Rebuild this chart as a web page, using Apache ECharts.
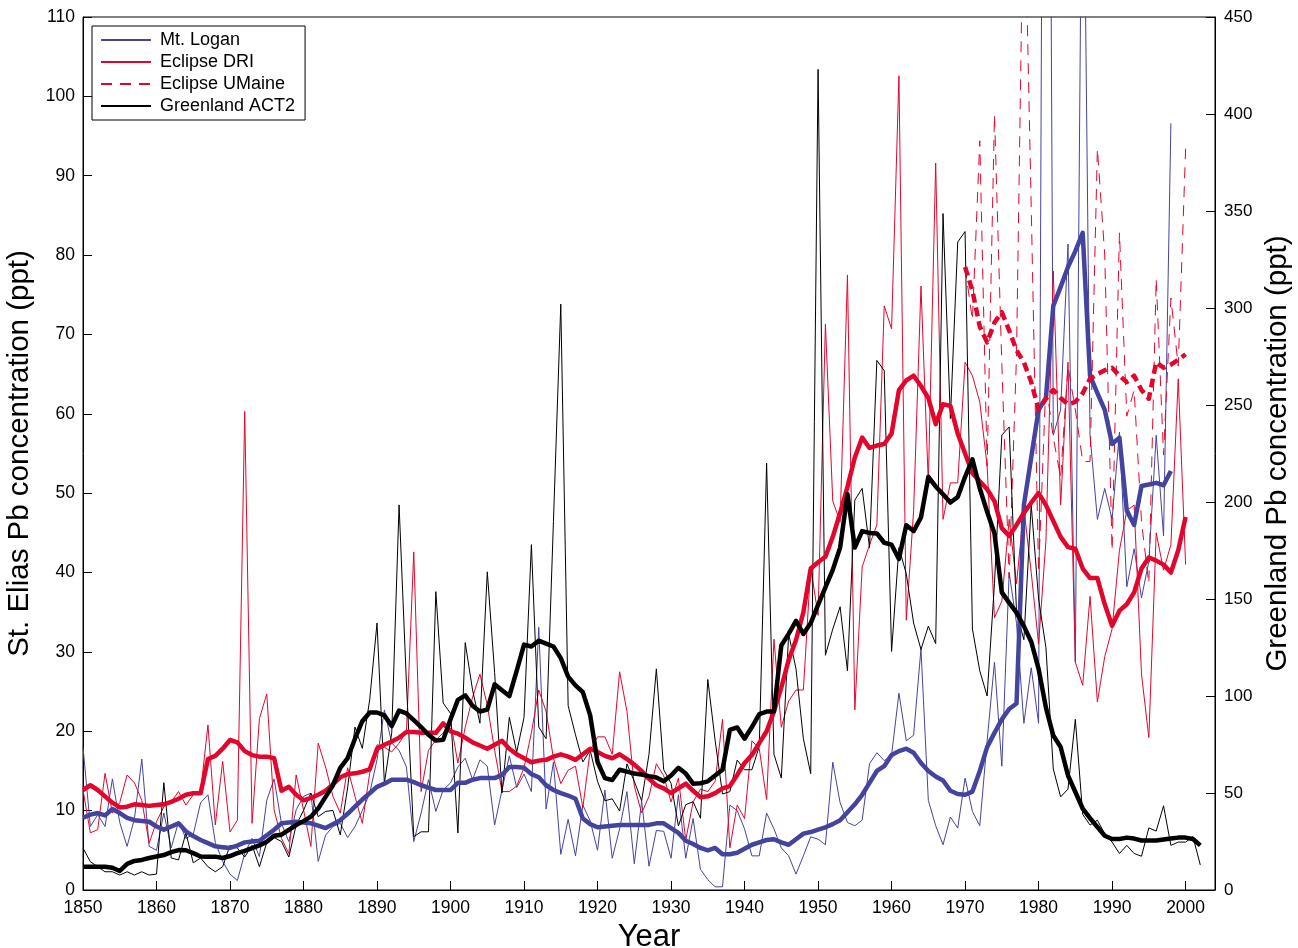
<!DOCTYPE html>
<html><head><meta charset="utf-8">
<script src="https://cdn.jsdelivr.net/npm/echarts@6/dist/echarts.min.js"></script>
<style>html,body{margin:0;padding:0;background:#fff}#c{width:1298px;height:948px}</style>
</head><body><div id="c"></div>
<script>
// ---------- data ----------
const loganStart = 1850;
const loganAnnual = [
 18, 8, 9.5, 8, 14, 8.5, 5.5, 9, 16.5, 5.5,
 5, 9.7, 5.3, 8.6, 6.5, 7, 11, 12, 6, 3.6,
 2, 1.2, 4.6, 6.5, 4.2, 11.3, 14, 8.4, 6.1, 10.1,
 11.8, 12.2, 3.6, 6.9, 8, 8.4, 6.6, 8, 10, 12.2,
 16.4, 22.7, 18.5, 17.6, 15.5, 6.1, 9.7, 13.9, 9.9, 12.6,
 13.5, 15.5, 16.6, 13.9, 16.4, 15.6, 8.2, 12.6, 16.9, 12.9,
 14.6, 12.4, 33.1, 10.2, 16.1, 4.5, 8.9, 4.3, 10.7, 8.7,
 5, 12.6, 4, 7.7, 12.4, 3.3, 11.2, 3, 7.5, 7.4,
 4, 12, 4, 9, 2.6, 1.3, 0.4, 0.4, 10.7, 10,
 7.7, 4.3, 4.3, 9.7, 7.7, 5.3, 4.3, 2, 4.3, 6.7,
 6.4, 5.7, 16.1, 11, 8.5, 8.1, 8.8, 15.9, 17.3, 16.3,
 17, 24.8, 18.8, 19.5, 30.4, 11.3, 8.1, 5.7, 9.2, 7.8,
 14.1, 9.9, 8.1, 18.8, 28.7, 15.6, 40, 33.6, 21, 28,
 21, 245, 57.3, 60.5, 81.4, 28.7, 145, 57.3, 46.7, 50.6,
 46.7, 57.7, 38.2, 43, 36.8, 41.4, 57.3, 44.6, 96.6
];
const loganSmooth = [
 9.1, 9.5, 9.7, 9.4, 10.2, 9.7, 9.1, 8.8, 8.7, 8.6,
 8, 7.6, 8, 8.4, 7.4, 6.8, 6.3, 5.9, 5.5, 5.4,
 5.3, 5.6, 6, 6.1, 6.2, 6.9, 7.6, 8.4, 8.5, 8.6,
 8.5, 8.4, 8.1, 7.8, 8.3, 8.8, 9.6, 10.5, 11.4, 12.2,
 13, 13.4, 13.9, 13.9, 13.9, 13.6, 13.2, 12.9, 12.6, 12.6,
 12.6, 13.5, 13.5, 13.9, 14.1, 14.1, 14.1, 14.5, 15.5, 15.5,
 15.4, 14.6, 14.2, 13.2, 12.6, 12.2, 11.9, 11.5, 9, 8.3,
 7.9, 8, 8.1, 8.2, 8.2, 8.2, 8.2, 8.2, 8.4, 8.4,
 7.8, 7.2, 6.2, 5.8, 5.3, 5, 5.3, 4.5, 4.5, 4.7,
 5.2, 5.7, 6, 6.3, 6.4, 6, 5.7, 6.4, 7.1, 7.3,
 7.6, 7.9, 8.3, 8.8, 9.8, 10.8, 12, 13.5, 15, 15.6,
 17, 17.5, 17.8, 17.3, 16, 15, 14.3, 13.8, 12.5, 12.1,
 12, 12.4, 15, 18, 19.8, 21.5, 22.8, 23.5, 48.5, 54.5,
 60.5, 62, 73.6, 76, 78.5, 80.5, 82.8, 64.8, 62.6, 60.5,
 56.2, 57, 47.8, 46, 50.9, 51.1, 51.3, 51, 52.8
];
const driStart = 1850;
const driAnnual = [
 12.6, 7.2, 7.6, 14.7, 9.7, 11, 14.5, 13.5, 11.3, 5.9,
 8.6, 10.5, 11.1, 12.4, 10.7, 12, 12.4, 20.8, 8.2, 16.2,
 7.3, 8.8, 60.3, 8.4, 21.6, 24.7, 10.1, 6.5, 4.6, 14.5,
 10.1, 5.5, 18.5, 15.5, 11.8, 9.7, 15.4, 11.8, 8.4, 14.7,
 18.3, 18, 17.4, 18.5, 19.9, 42.6, 12.4, 17.6, 18.9, 19.8,
 21.2, 16, 20.5, 24.3, 27.2, 23.3, 17.6, 12.4, 12.4, 13.1,
 15.4, 19.8, 25.2, 22.5, 16.6, 13.4, 15.1, 15.6, 10.4, 17.6,
 19.3, 19.3, 17.1, 27.5, 22.5, 13.1, 9.7, 11.8, 15.9, 14.4,
 11.1, 14.1, 6.3, 11.1, 12.7, 12.4, 13.7, 21.5, 5.3, 10.7,
 9, 18.8, 17.8, 11.4, 31.6, 20.5, 23.8, 25.2, 25.2, 40.7,
 34.6, 71.3, 49, 46.4, 77.5, 22.7, 40.7, 43.5, 46, 73.6,
 70.7, 102.6, 34, 47.8, 76.1, 51.3, 91.6, 46.7, 51.3, 51.3,
 66.5, 64.8, 61.5, 53.4, 34.3, 36.4, 46.7, 38.6, 48.1, 40,
 31, 44, 78, 48.5, 66.5, 28.7, 25.8, 37, 23.7, 29.4,
 32.9, 42.8, 47.8, 48.5, 27.2, 19.2, 45, 40.3, 43.5, 64.4,
 41
];
const driSmooth = [
 12.6, 13.2, 12.6, 11.8, 11, 10.4, 10.5, 10.8, 10.7, 10.6,
 10.7, 10.8, 11.1, 11.5, 12, 12.2, 12.2, 16.5, 16.9, 17.8,
 18.9, 18.6, 17.5, 17, 16.8, 16.8, 16.6, 12.5, 13, 12,
 11.3, 11.6, 12, 12.5, 13.3, 14.2, 14.6, 14.7, 14.9, 15.2,
 17.8, 18.3, 18.7, 19.2, 19.9, 19.9, 19.8, 19.8, 19.8, 21,
 20, 19.7, 19.2, 18.6, 18.2, 17.8, 18.3, 18.8, 17.8, 17.1,
 16.6, 16.1, 16.3, 16.4, 16.8, 17.1, 16.8, 16.4, 17.1, 17.8,
 17.4, 16.9, 16.6, 17.1, 16.5, 15.8, 15, 14, 13.2, 12.8,
 12.2, 12.8, 13.4, 12.5, 11.7, 11.8, 12.2, 12.8, 13.1, 14.5,
 16, 17, 18.5, 20, 22.5, 25.5, 29, 31.5, 35, 40.5,
 41.3, 42, 44.5, 47.5, 50.8, 54.5, 57, 55.7, 56, 56.2,
 57.5, 63, 64.2, 64.8, 63.5, 62, 58.7, 61.2, 61, 57.5,
 55, 52.5, 51.5, 50.5, 49, 45.6, 44.6, 46, 47.5, 48.8,
 50, 48.5, 46.5, 44.5, 43.2, 43, 40.5, 39.3, 39.3, 36,
 33.3, 35.2, 36, 37.5, 40.5, 41.9, 41.5, 41, 40, 42.8,
 47
];
const umaineStart = 1970;
const umaineAnnual = [
 78.5, 71.8, 94.4, 53.4, 97.7, 66.2, 39.3, 67.5, 130, 86,
 40, 64, 57, 52, 66, 60.5, 54, 54, 93.4, 80,
 42.8, 82.8, 59.7, 63, 46.4, 38.6, 77, 54.8, 74.6, 66,
 93.4
];
const umaineSmooth = [
 78.5, 75.5, 71, 69, 71.5, 72.8, 70.5, 68, 66.5, 64,
 60.5, 61.9, 63, 62, 61.2, 61.5, 62.6, 64.4, 65, 65.5,
 65.8, 64.8, 64, 64.8, 63, 61.9, 66.5, 65.8, 66.2, 66.8,
 67.5
];
const greenlandStart = 1850;
const greenlandAnnual = [
 21.6, 14.6, 12, 9.4, 9.4, 7.7, 9.4, 7.7, 9.4, 7.7,
 8.2, 55.3, 16.5, 15.5, 29.4, 14, 16.5, 12, 9.4, 12,
 23, 21.6, 17, 23, 12, 24.5, 27, 25, 17, 33.5,
 41, 50, 37.8, 40.5, 41, 28.4, 52.6, 84, 73, 98,
 137.6, 55, 81, 198.5, 106.7, 27.5, 30, 30, 153.8, 96.4,
 91, 29.4, 127.5, 103, 86, 164, 112, 50, 89, 71,
 89, 178, 84, 78, 190, 302, 95, 80, 66, 72,
 56, 46, 47, 40.7, 65, 56, 46, 70, 114, 62,
 55, 33, 44, 45.5, 37, 108.5, 77, 49.5, 50.7, 67,
 62, 62, 74, 220, 70, 57.7, 132, 114, 78, 60,
 423, 121, 134.5, 146, 113, 201, 207, 176.5, 273, 267.7,
 123, 176.5, 163, 137.6, 124, 136, 127, 348.7, 243, 334,
 339.4, 134.5, 113, 100, 158, 234.5, 238.7, 143, 129, 198.5,
 150, 125, 62.4, 48, 52, 88, 39, 33.5, 36, 29,
 24.7, 18.8, 23, 18.8, 17.4, 32, 30.4, 43.4, 23, 24.7,
 24.7, 27.5, 12.9
];
const greenlandSmooth = [
 12, 12, 12, 12, 11.5, 9.8, 13.5, 15, 15.5, 16.5,
 17.3, 18, 19.5, 20.6, 20.5, 19, 17.3, 17.2, 17.2, 16.5,
 17.5, 19, 20.2, 21.6, 23, 24.9, 28, 28.5, 31, 33.5,
 35.5, 37.8, 42, 48, 54, 63, 68, 78, 87, 91.5,
 91.5, 90, 84.5, 92.5, 91, 87.6, 84, 80, 77, 77.5,
 88, 98, 100.3, 95, 92, 93, 106, 103, 100, 113,
 126.5, 125.5, 128.5, 127, 125.5, 119.5, 110, 105.5, 102, 90,
 66, 57.7, 56.7, 62, 61, 60, 59.5, 58.7, 58, 56,
 59, 63, 60, 54.8, 55, 56, 59, 62, 82.5, 83.8,
 78, 84, 90.7, 92, 92, 126, 132, 138.7, 132, 137.6,
 147, 156, 165, 176.5, 204, 176.5, 185, 184, 183.8, 179,
 178, 170.6, 188, 185, 192, 213, 208, 204, 199.7, 202.6,
 213, 222, 207, 195, 183.8, 153.4, 148, 143, 136, 128,
 114, 94, 79.6, 73.7, 59, 50.5, 42, 37, 32.5, 28,
 26.3, 26.3, 27, 26.5, 25.5, 25.5, 25.5, 26, 26.5, 27,
 27, 26.3, 23
];
const legendNames = ['Mt. Logan', 'Eclipse DRI', 'Eclipse UMaine', 'Greenland ACT2'];

// ---------- chart ----------
const BLUE = '#44449e', RED = '#e2062c', BLACK = '#000000';
const FONT = 'Liberation Sans, Arial, Helvetica, sans-serif';
function pairs(start, arr) { return arr.map((v, i) => [start + i, v]); }

function line(name, start, arr, color, width, yIdx, dashed, z) {
  return {
    name, type: 'line', yAxisIndex: yIdx, data: pairs(start, arr),
    symbol: 'none', showSymbol: false, clip: true, z: z, silent: true,
    lineStyle: { color, width, type: dashed || 'solid', cap: 'butt', join: 'round' },
    itemStyle: { color }
  };
}

const chart = echarts.init(document.getElementById('c'), null, { renderer: 'canvas' });
chart.setOption({
  animation: false,
  backgroundColor: '#ffffff',
  textStyle: { fontFamily: FONT },
  grid: { left: 83, right: 83, top: 17, bottom: 58, show: true, borderColor: '#000', borderWidth: 1,
          containLabel: false, outerBoundsMode: 'none' },
  legend: {
    data: legendNames, orient: 'vertical', left: 92, top: 26,
    padding: [5, 10, 5, 8], itemGap: 4, itemWidth: 50, itemHeight: 14,
    backgroundColor: '#fff', borderColor: '#000', borderWidth: 1, borderRadius: 0,
    itemStyle: { opacity: 0 },
    textStyle: { fontSize: 18, lineHeight: 18, color: '#000', fontFamily: FONT, padding: [0, 0, 0, 4] },
    selectedMode: false
  },
  xAxis: {
    type: 'value', min: 1850, max: 2004, interval: 10,
    axisLine: { show: true, onZero: false, lineStyle: { color: '#000', width: 1 } },
    axisTick: { show: true, inside: true, length: 9, lineStyle: { color: '#000' } },
    axisLabel: { color: '#000', fontSize: 17.5, margin: 9, fontFamily: FONT,
      formatter: v => (v % 10 === 0 ? String(v) : '') },
    splitLine: { show: false },
    name: 'Year', nameLocation: 'middle', nameGap: 25,
    nameTextStyle: { fontSize: 31, color: '#000', fontFamily: FONT }
  },
  yAxis: [
    {
      type: 'value', min: 0, max: 110, interval: 10, position: 'left',
      axisLine: { show: true, lineStyle: { color: '#000', width: 1 } },
      axisTick: { show: true, inside: true, length: 9, lineStyle: { color: '#000' } },
      axisLabel: { color: '#000', fontSize: 17.5, margin: 8, fontFamily: FONT },
      splitLine: { show: false },
      name: 'St. Elias Pb concentration (ppt)', nameLocation: 'middle', nameGap: 38, nameRotate: 90,
      nameTextStyle: { fontSize: 29.5, color: '#000', fontFamily: FONT }
    },
    {
      type: 'value', min: 0, max: 450, interval: 50, position: 'right',
      axisLine: { show: true, lineStyle: { color: '#000', width: 1 } },
      axisTick: { show: true, inside: true, length: 9, lineStyle: { color: '#000' } },
      axisLabel: { color: '#000', fontSize: 17, margin: 9, fontFamily: FONT },
      splitLine: { show: false },
      name: 'Greenland Pb concentration (ppt)', nameLocation: 'middle', nameGap: 45, nameRotate: 90,
      nameTextStyle: { fontSize: 29.5, color: '#000', fontFamily: FONT }
    }
  ],
  series: [
    line('Mt. Logan', loganStart, loganAnnual, BLUE, 1, 0, null, 2),
    line('Eclipse DRI', driStart, driAnnual, RED, 1, 0, null, 2),
    line('Eclipse UMaine', umaineStart, umaineAnnual, RED, 1, 0, [11, 8], 2),
    line('Greenland ACT2', greenlandStart, greenlandAnnual, BLACK, 1, 1, null, 2),
    line('Mt. Logan smoothed', loganStart, loganSmooth, BLUE, 4.5, 0, null, 3),
    line('Eclipse DRI smoothed', driStart, driSmooth, RED, 4.5, 0, null, 3),
    line('Eclipse UMaine smoothed', umaineStart, umaineSmooth, RED, 4.5, 0, [9, 5], 3),
    line('Greenland ACT2 smoothed', greenlandStart, greenlandSmooth, BLACK, 4.5, 1, null, 3)
  ]
});
</script>
</body></html>
